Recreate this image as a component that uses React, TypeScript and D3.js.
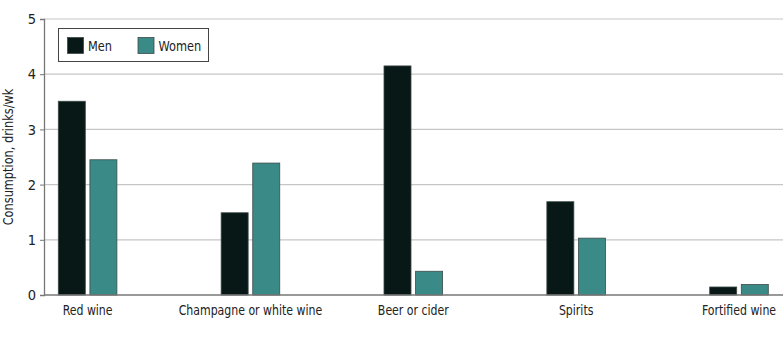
import React, { useEffect, useRef } from 'react';
import * as d3 from 'd3';

const categories = ['Red wine', 'Champagne or white wine', 'Beer or cider', 'Spirits', 'Fortified wine'];
const menValues = [3.51, 1.49, 4.15, 1.69, 0.145];
const womenValues = [2.45, 2.39, 0.43, 1.03, 0.19];
const yTicks = [0, 1, 2, 3, 4, 5];
const seriesNames = ['Men', 'Women'];

const width = 783;
const height = 350;
const padding = { left: 44, right: 0, top: 19, down: 55 };
const colors = ['#081817', '#3a8a88'];
const font = '"DejaVu Sans Condensed", "DejaVu Sans", sans-serif';
const squeeze = 0.87; // reference type is narrower than DejaVu Condensed

export default function App() {
  const ref = useRef<SVGSVGElement>(null);

  useEffect(() => {
    const svg = d3.select(ref.current);
    svg.selectAll('*').remove();

    const yScale = d3.scaleLinear()
      .domain([0, 5])
      .range([height - padding.down, padding.top]);

    // group centres
    const xScale = d3.scalePoint<string>()
      .domain(categories)
      .range([87.6, 739]);

    const barW = 27;
    const gap = 2.3;

    // gridlines
    svg.append('g')
      .selectAll('line')
      .data(yTicks.filter(t => t > 0))
      .join('line')
      .attr('x1', padding.left)
      .attr('x2', width)
      .attr('y1', d => yScale(d))
      .attr('y2', d => yScale(d))
      .attr('stroke', '#c6c6c6')
      .attr('stroke-width', 1.2);

    // y axis
    const yAxis = d3.axisLeft(yScale).tickValues(yTicks).tickFormat(d3.format('d')).tickSize(4).tickPadding(4);
    const yAxisG = svg.append('g')
      .attr('transform', `translate(${padding.left}, 0)`)
      .call(yAxis);
    yAxisG.select('.domain').attr('stroke', '#777').attr('stroke-width', 1.3);
    yAxisG.selectAll('.tick line').attr('stroke', '#777');
    yAxisG.selectAll('.tick text')
      .attr('font-family', font)
      .attr('font-size', 14.5)
      .attr('fill', '#222');

    // bars
    const series = [menValues, womenValues];
    series.forEach((vals, si) => {
      svg.append('g')
        .selectAll('rect')
        .data(categories)
        .join('rect')
        .attr('x', (d) => si === 0 ? xScale(d)! - gap - barW : xScale(d)! + gap)
        .attr('y', (d, i) => yScale(vals[i]))
        .attr('width', barW)
        .attr('height', (d, i) => yScale(0) - yScale(vals[i]))
        .attr('fill', colors[si])
        .attr('stroke', '#3c4a48')
        .attr('stroke-width', 0.8);
    });

    // x baseline
    svg.append('line')
      .attr('x1', padding.left)
      .attr('x2', width)
      .attr('y1', yScale(0))
      .attr('y2', yScale(0))
      .attr('stroke', '#777')
      .attr('stroke-width', 1.3);

    // x labels
    svg.append('g')
      .selectAll('text')
      .data(categories)
      .join('text')
      .attr('transform', d => `translate(${xScale(d)}, ${yScale(0) + 20}) scale(${squeeze}, 1)`)
      .attr('text-anchor', 'middle')
      .attr('font-family', font)
      .attr('font-size', 14)
      .attr('fill', '#222')
      .text(d => d);

    // y label
    svg.append('text')
      .attr('transform', `translate(13, ${(padding.top + height - padding.down) / 2}) rotate(-90) scale(${squeeze}, 1)`)
      .attr('text-anchor', 'middle')
      .attr('font-family', font)
      .attr('font-size', 14.5)
      .attr('fill', '#222')
      .text('Consumption, drinks/wk');

    // legend
    const legend = svg.append('g');
    legend.append('rect')
      .attr('x', 58.5)
      .attr('y', 28.5)
      .attr('width', 150)
      .attr('height', 33)
      .attr('fill', '#fff')
      .attr('stroke', '#444')
      .attr('stroke-width', 1);
    const legendX = [67.5, 138];
    seriesNames.forEach((name, i) => {
      legend.append('rect')
        .attr('x', legendX[i])
        .attr('y', 37.5)
        .attr('width', 16)
        .attr('height', 16)
        .attr('fill', colors[i])
        .attr('stroke', '#3c4a48')
        .attr('stroke-width', 0.8);
      legend.append('text')
        .attr('transform', `translate(${legendX[i] + 20.5}, 50.5) scale(${squeeze}, 1)`)
        .attr('font-family', font)
        .attr('font-size', 14.5)
        .attr('fill', '#222')
        .text(name);
    });
  }, []);

  return (
    <svg ref={ref} width={width} height={height}
      style={{ position: 'absolute', left: 0, top: 0, background: '#fff' }} />
  );
}
